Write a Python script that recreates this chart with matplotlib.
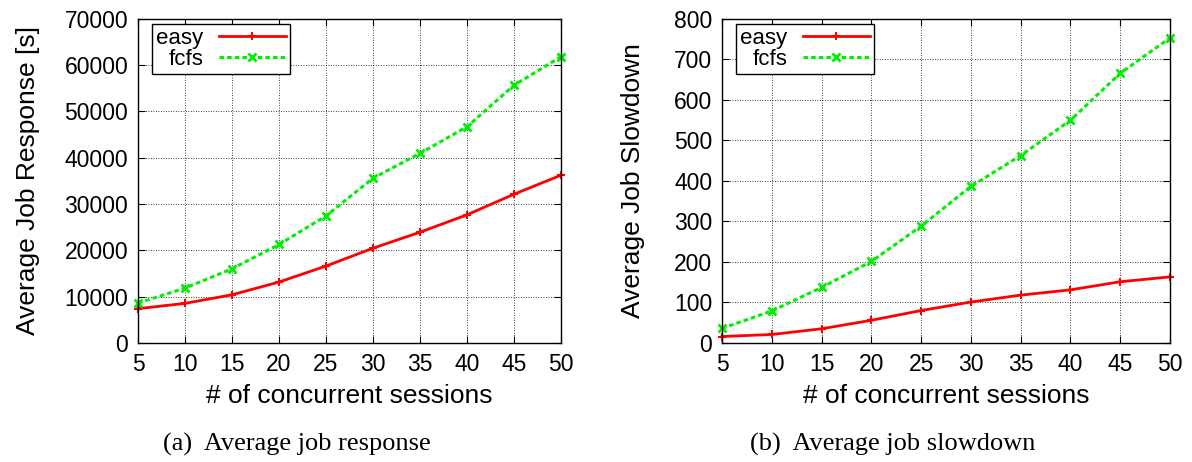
import numpy as np
import matplotlib
matplotlib.use("Agg")
import matplotlib.pyplot as plt

sessions = [5, 10, 15, 20, 25, 30, 35, 40, 45, 50]

# (a) average job response [s]
resp_easy = [7400, 8550, 10400, 13150, 16600, 20450, 23900, 27650, 32100, 36200]
resp_fcfs = [8600, 11850, 16000, 21250, 27400, 35550, 40900, 46650, 55600, 61750]

# (b) average job slowdown
slow_easy = [16, 21, 35, 56, 80, 101, 118, 131, 151, 163]
slow_fcfs = [36, 79, 137, 201, 288, 386, 462, 549, 665, 752]

plt.rcParams['font.family'] = ['Liberation Sans', 'DejaVu Sans']

fig = plt.figure(figsize=(11.92, 4.62), dpi=100)
W, H = 1192, 462
ax1 = fig.add_axes([138 / W, 1 - 343 / H, (561 - 138) / W, (343 - 18.5) / H])
ax2 = fig.add_axes([722 / W, 1 - 343 / H, (1170 - 722) / W, (343 - 18.5) / H])


def style(ax, ylim, yticks, ylabel, ypad):
    ax.set_xlim(5, 50)
    ax.set_ylim(*ylim)
    ax.set_xticks(sessions)
    ax.set_yticks(yticks)
    ax.tick_params(direction='in', top=True, right=True, labelsize=16.5,
                   length=5, width=0.8, pad=7)
    ax.grid(True, color='black', linestyle=(0, (1, 2)), linewidth=0.6)
    for s in ax.spines.values():
        s.set_linewidth(1.0)
    ax.set_xlabel('# of concurrent sessions', fontsize=19, labelpad=6)
    ax.set_ylabel(ylabel, fontsize=19, labelpad=ypad)


def draw(ax, easy, fcfs, ax_w):
    ax.plot(sessions, easy, color='#ff0000', linewidth=2, marker='+',
            markersize=6, markeredgewidth=1.5, label='easy', clip_on=False)
    ax.plot(sessions, fcfs, color='#00ee00', linewidth=2.2,
            linestyle=(0, (1.5, 1)), marker='x', markersize=6,
            markeredgewidth=2, label='fcfs', clip_on=False)
    leg = ax.legend(loc='upper left', fontsize=16, markerfirst=False,
                    bbox_to_anchor=(14 / ax_w, 1 - 5 / 324.5),
                    fancybox=False, framealpha=1, edgecolor='black',
                    handlelength=3.0, borderaxespad=0, borderpad=0.2,
                    labelspacing=0.0, handletextpad=0.7)
    leg.get_frame().set_linewidth(1.0)
    for t in leg.get_texts():
        t.set_ha('right')
    leg._legend_box.align = 'right'


draw(ax1, resp_easy, resp_fcfs, 423)
style(ax1, (0, 70000), np.arange(0, 70001, 10000), 'Average Job Response [s]', 18)
draw(ax2, slow_easy, slow_fcfs, 448)
style(ax2, (0, 800), np.arange(0, 801, 100), 'Average Job Slowdown', 21)

fig.text(297 / W, 1 - 444 / H, '(a)  Average job response', ha='center',
         va='center', fontsize=19, family='Liberation Serif')
fig.text(893 / W, 1 - 444 / H, '(b)  Average job slowdown', ha='center',
         va='center', fontsize=19, family='Liberation Serif')

fig.savefig('out.png', dpi=100)
